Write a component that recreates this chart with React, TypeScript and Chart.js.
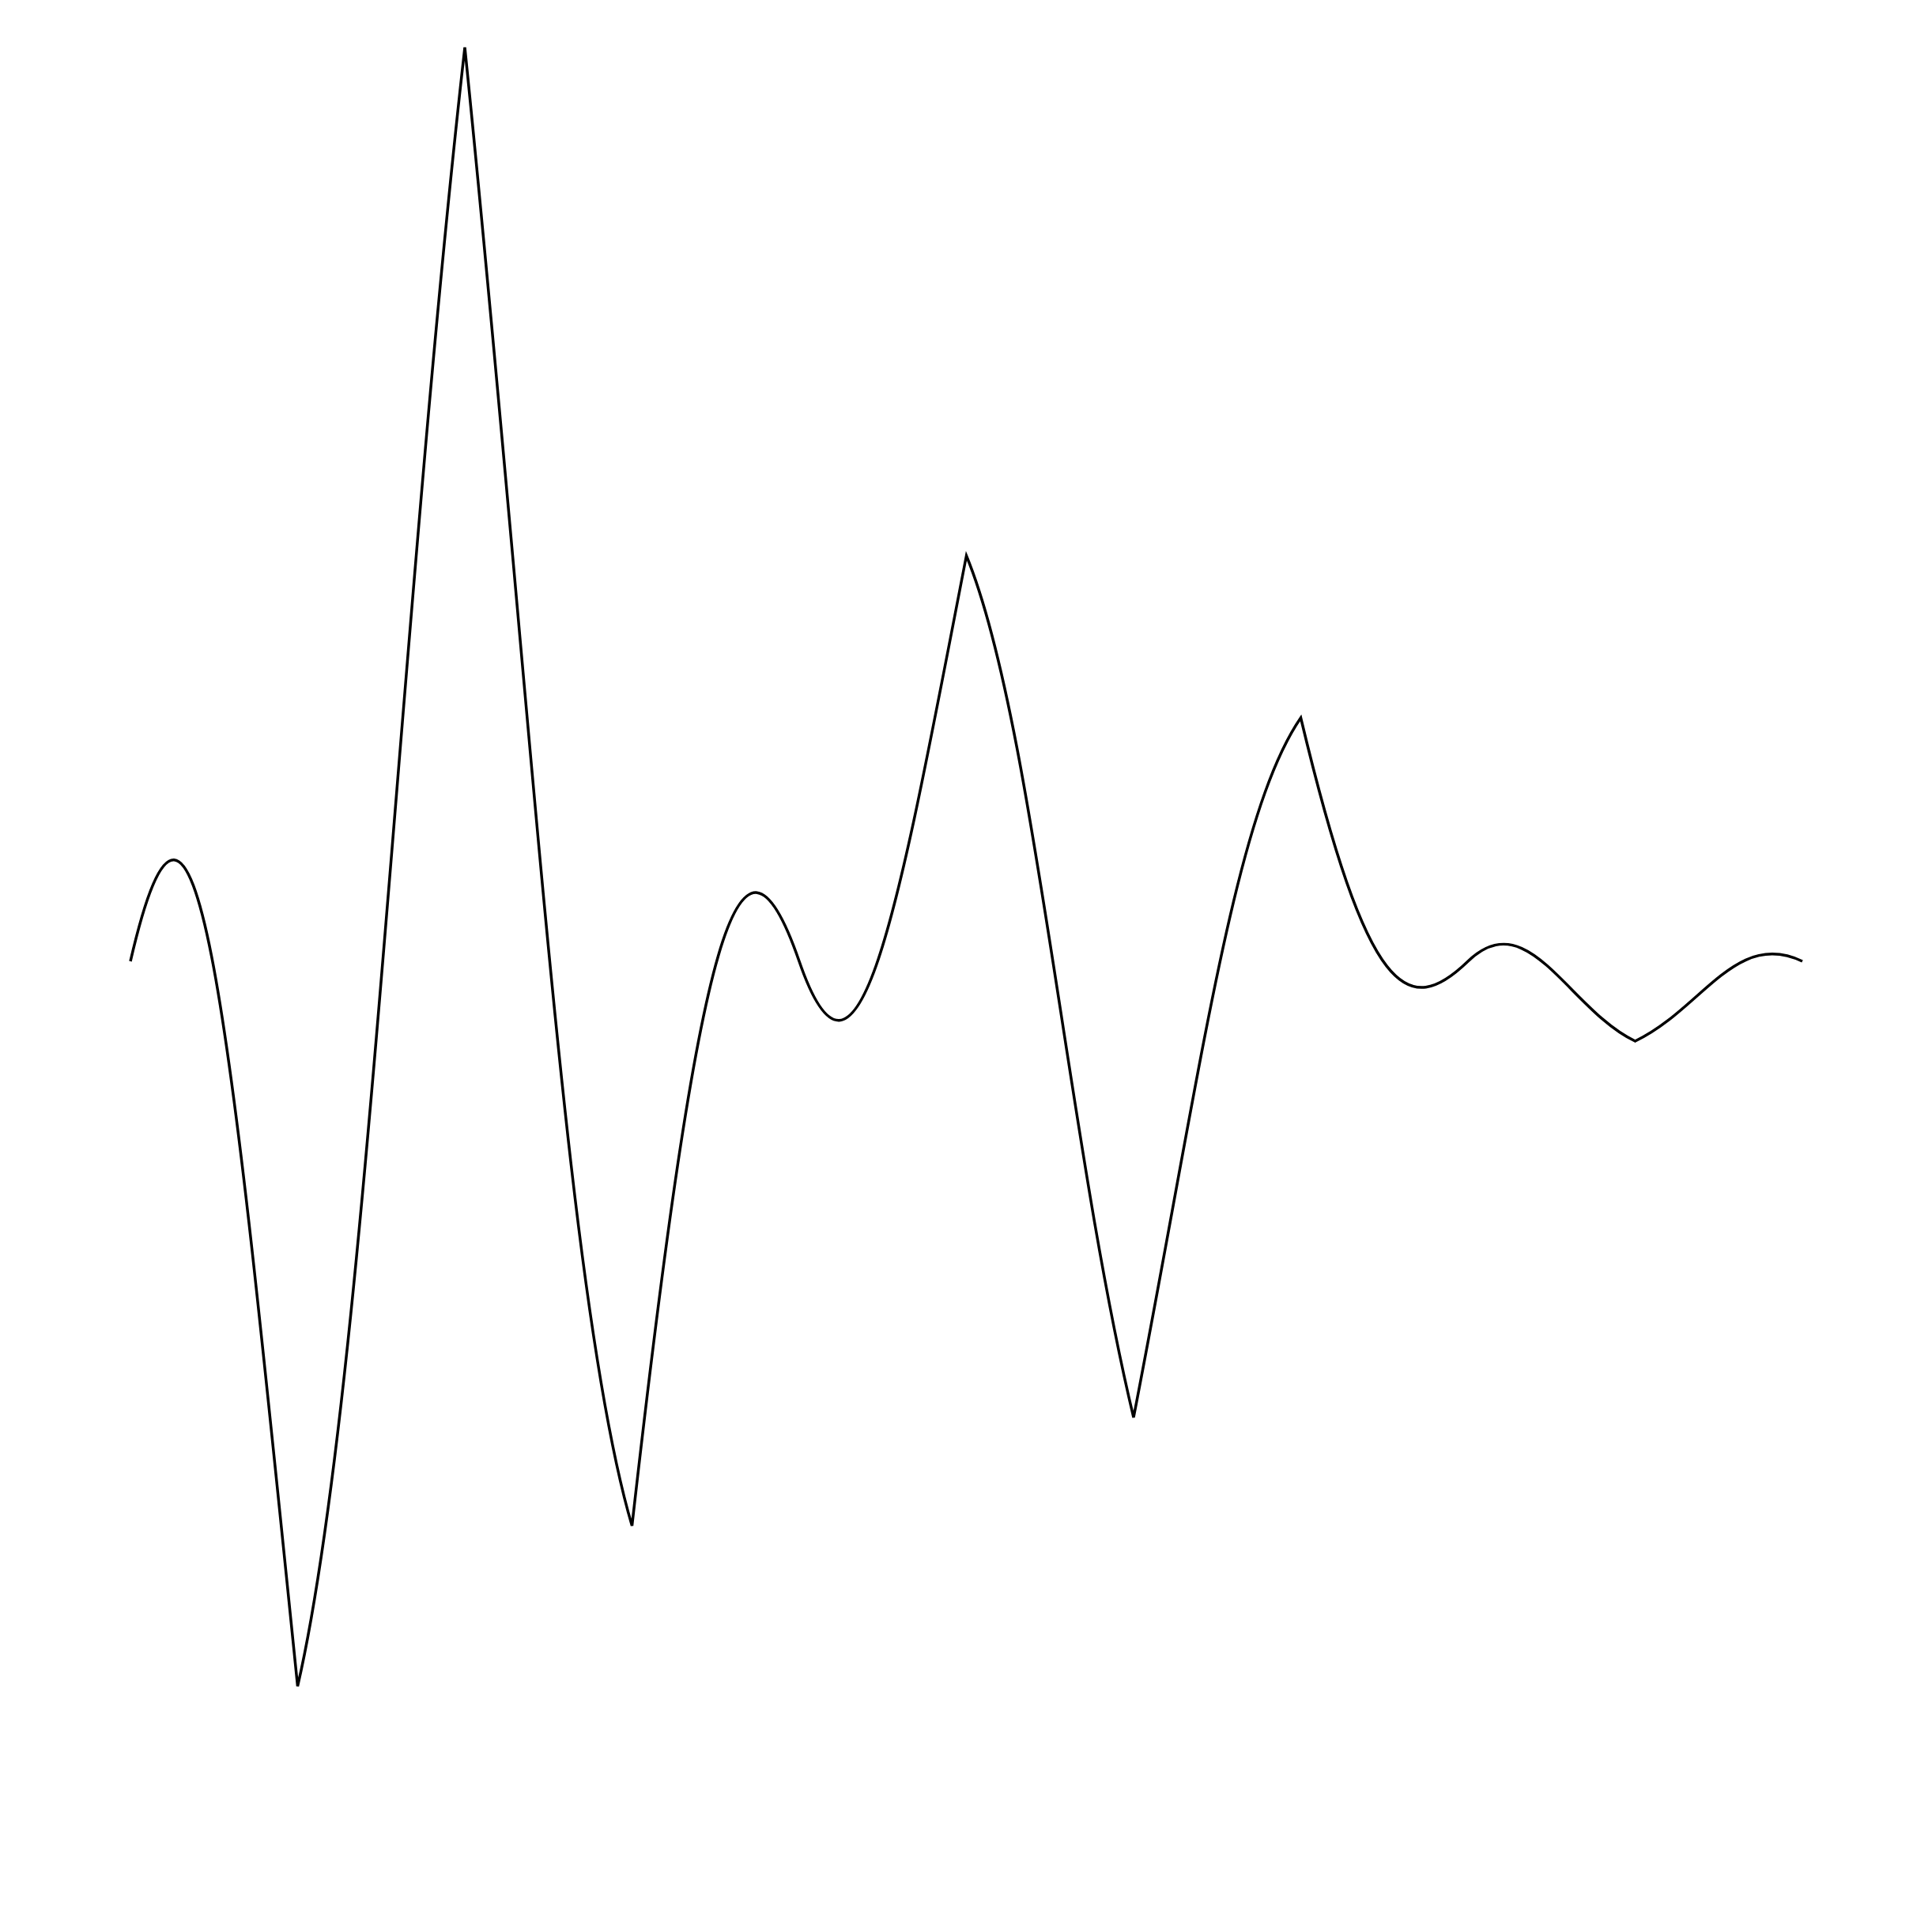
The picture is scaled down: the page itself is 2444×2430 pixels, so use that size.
import React, { useEffect, useRef } from "react";
import { Chart, registerables } from "chart.js";

Chart.register(...registerables);

// Categories (x positions, evenly spaced, axis hidden in the reference)
const categories: string[] = ["1", "2", "3", "4", "5", "6", "7", "8", "9", "10", "11"];

// Series values (baseline = 0)
const seriesValues: number[] = [0, -9.17, 11.56, -7.14, 0, 5.13, -5.77, 3.08, 0, -1.01, 0];

// Value range of the hidden y axis
const yMin = -9.17;
const yMax = 11.56;

// Handle shares: at peaks/valleys and ends (per neighbouring chord), and at pass-through points
const EDGE_HANDLE = 0.4;
const PASS_HANDLE = 0.18;

// Control points computed from the points' pixel positions (mirrored handles)
const mirrorHandles = {
  id: "mirrorHandles",
  beforeDatasetDraw(chart: any, args: any) {
    chart.ctx.miterLimit = 4;
    const meta = args.meta;
    const line = meta.dataset;
    const pts = meta.data;
    const n = pts.length;
    if (!line || n < 2) return;
    for (let i = 0; i < n; i++) {
      const p = pts[i];
      const prev = i > 0 ? pts[i - 1] : null;
      const next = i < n - 1 ? pts[i + 1] : null;
      if (prev && next && (p.y - prev.y) * (next.y - p.y) > 0) {
        // pass-through point: one smooth mirrored tangent
        const dx = next.x - prev.x;
        const dy = next.y - prev.y;
        p.cp1x = p.x - PASS_HANDLE * dx;
        p.cp1y = p.y + PASS_HANDLE * dy;
        p.cp2x = p.x + PASS_HANDLE * dx;
        p.cp2y = p.y - PASS_HANDLE * dy;
        continue;
      }
      // peak, valley or end point: each side mirrors one chord
      if (next) {
        const a = prev ? prev : p;
        const b = prev ? p : next;
        p.cp2x = p.x + EDGE_HANDLE * (b.x - a.x);
        p.cp2y = p.y - EDGE_HANDLE * (b.y - a.y);
      } else {
        p.cp2x = p.x;
        p.cp2y = p.y;
      }
      if (prev) {
        const a = next ? p : prev;
        const b = next ? next : p;
        p.cp1x = p.x - EDGE_HANDLE * (b.x - a.x);
        p.cp1y = p.y + EDGE_HANDLE * (b.y - a.y);
      } else {
        p.cp1x = p.x;
        p.cp1y = p.y;
      }
    }
    line._pointsUpdated = true;
    line._path = undefined;
  },
};

export default function App() {
  const canvasRef = useRef<HTMLCanvasElement | null>(null);

  useEffect(() => {
    const canvas = canvasRef.current;
    if (!canvas) return;
    const chart = new Chart(canvas, {
      type: "line",
      data: {
        labels: categories,
        datasets: [
          {
            data: seriesValues,
            borderColor: "#000000",
            backgroundColor: "#000000",
            borderWidth: 3.5,
            borderJoinStyle: "miter",
            borderCapStyle: "butt",
            pointRadius: 0,
            pointHoverRadius: 0,
            tension: 0.4,
            fill: false,
            clip: 10,
          } as any,
        ],
      },
      options: {
        animation: false,
        responsive: true,
        maintainAspectRatio: false,
        events: [],
        layout: { padding: { left: 157, right: 156, top: 52, bottom: 275 } },
        plugins: {
          legend: { display: false },
          tooltip: { enabled: false },
          title: { display: false },
        },
        scales: {
          x: { display: false },
          y: { display: false, min: yMin, max: yMax },
        },
      },
      plugins: [mirrorHandles as any],
    });
    return () => chart.destroy();
  }, []);

  return (
    <div style={{ position: "relative", width: 2428, height: 2400 }}>
      <canvas ref={canvasRef} />
    </div>
  );
}
